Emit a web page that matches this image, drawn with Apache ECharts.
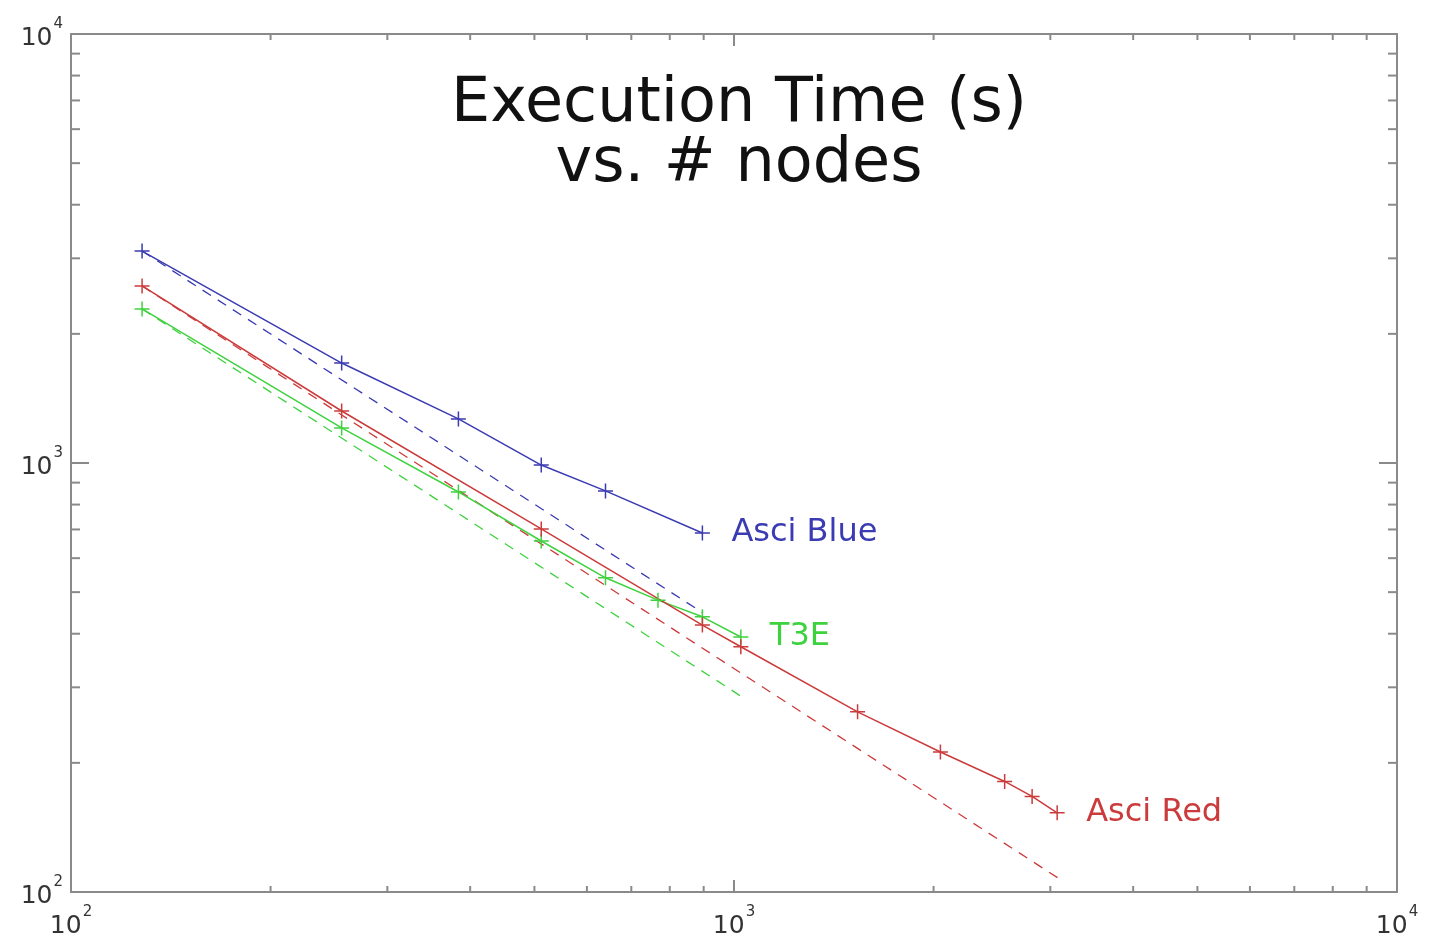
<!DOCTYPE html>
<html>
<head>
<meta charset="utf-8">
<script src="https://cdn.jsdelivr.net/npm/echarts@6/dist/echarts.min.js"></script>
<style>
  html, body { margin: 0; padding: 0; background: #fff; }
  #main { width: 1429px; height: 948px; }
</style>
</head>
<body>
<div id="main"></div>
<script>
// values (nodes, seconds)
var blueNodes = [128, 256, 384, 512, 640, 896];
var blueTime  = [3119, 1710, 1267, 989, 861, 687];
var redNodes  = [128, 256, 512, 896, 1024, 1536, 2048, 2560, 2816, 3072];
var redTime   = [2587, 1322, 702, 419, 373, 263, 212, 181, 167, 153];
var t3eNodes  = [128, 256, 384, 512, 640, 768, 896, 1024];
var t3eTime   = [2286, 1207, 856, 658, 540, 479, 438, 393];

// dashed reference lines, end points
var blueIdealNodes = [128, 898];
var blueIdealTime  = [3119, 447];
var redIdealNodes  = [128, 3105];
var redIdealTime   = [2587, 107];
var t3eIdealNodes  = [128, 1028];
var t3eIdealTime   = [2286, 285];

var minorTicks = [200, 300, 400, 500, 600, 700, 800, 900,
                  2000, 3000, 4000, 5000, 6000, 7000, 8000, 9000];

var BLUE = '#3b3bb3';
var RED = '#cc3b3b';
var GREEN = '#3fd23f';
var FONT = 'DejaVu Sans';

function pairs(xs, ys) {
  var out = [];
  for (var i = 0; i < xs.length; i++) out.push([xs[i], ys[i]]);
  return out;
}

var plus = 'path://M0,8 L16,8 M8,0 L8,16';

function solid(name, xs, ys, color) {
  return {
    name: name,
    type: 'line',
    data: pairs(xs, ys),
    symbol: plus,
    symbolSize: 15,
    lineStyle: { color: color, width: 1.5 },
    itemStyle: { color: color, borderColor: color, borderWidth: 1.5 },
    endLabel: {
      show: true,
      formatter: name,
      color: color,
      fontSize: 32,
      fontFamily: FONT,
      distance: 29
    },
    z: 3
  };
}

function dashed(xs, ys, color) {
  return {
    type: 'line',
    data: pairs(xs, ys),
    showSymbol: false,
    lineStyle: { color: color, width: 1.3, type: [10, 8] },
    z: 2
  };
}

function makeRich(shift) {
  return {
    b: { fontSize: 25, fontFamily: FONT, color: '#333', lineHeight: 25, verticalAlign: 'bottom', padding: [shift, 0, 0, 0] },
    s: { fontSize: 15, fontFamily: FONT, color: '#333', lineHeight: 15, padding: [0, 0, 19 + shift, 1], verticalAlign: 'bottom' }
  };
}
function powLabel(v) {
  return '{b|10}{s|' + Math.round(Math.log10(v)) + '}';
}

function axisCommon(showLabel, isY) {
  return {
    type: 'log',
    logBase: 10,
    min: 100,
    max: 10000,
    axisLine: { show: true, onZero: false, lineStyle: { color: '#8a8a8a', width: 2 } },
    axisTick: { show: true, inside: true, length: isY ? 18 : 12, lineStyle: { color: '#8a8a8a', width: 2 } },
    splitLine: { show: false },
    axisLabel: {
      show: showLabel,
      formatter: powLabel,
      rich: makeRich(isY ? 0 : 0),
      margin: isY ? 8 : 22,
      padding: isY ? [8, 0, 0, 0] : 0
    }
  };
}

var chart = echarts.init(document.getElementById('main'));

var xBottom = axisCommon(true, false); xBottom.position = 'bottom';
var xTop = axisCommon(false, false); xTop.position = 'top';
var yLeft = axisCommon(true, true); yLeft.position = 'left';
var yRight = axisCommon(false, true); yRight.position = 'right';

var option = {
  animation: false,
  backgroundColor: '#fff',
  title: {
    text: 'Execution Time (s)\nvs. # nodes',
    left: 734,
    top: 70,
    textAlign: 'center',
    textStyle: { fontSize: 62, fontWeight: 'normal', fontFamily: FONT, color: '#111', lineHeight: 60 }
  },
  grid: { left: 71, right: 32, top: 34, bottom: 56 },
  xAxis: [xBottom, xTop],
  yAxis: [yLeft, yRight],
  series: [
    dashed(blueIdealNodes, blueIdealTime, BLUE),
    dashed(redIdealNodes, redIdealTime, RED),
    dashed(t3eIdealNodes, t3eIdealTime, GREEN),
    solid('Asci Blue', blueNodes, blueTime, BLUE),
    solid('T3E', t3eNodes, t3eTime, GREEN),
    solid('Asci Red', redNodes, redTime, RED),
    {
      // minor ticks along bottom and top
      type: 'custom',
      silent: true,
      clip: false,
      data: minorTicks.map(function (v) { return [v, 100]; }),
      renderItem: function (params, api) {
        var b = api.coord([api.value(0), 100]);
        var t = api.coord([api.value(0), 10000]);
        var st = { stroke: '#8a8a8a', lineWidth: 2 };
        return { type: 'group', children: [
          { type: 'line', shape: { x1: b[0], y1: b[1], x2: b[0], y2: b[1] - 6 }, style: st },
          { type: 'line', shape: { x1: t[0], y1: t[1], x2: t[0], y2: t[1] + 6 }, style: st }
        ]};
      }
    },
    {
      // minor ticks along left and right
      type: 'custom',
      silent: true,
      clip: false,
      data: minorTicks.map(function (v) { return [100, v]; }),
      renderItem: function (params, api) {
        var l = api.coord([100, api.value(1)]);
        var r = api.coord([10000, api.value(1)]);
        var st = { stroke: '#8a8a8a', lineWidth: 2 };
        return { type: 'group', children: [
          { type: 'line', shape: { x1: l[0], y1: l[1], x2: l[0] + 9, y2: l[1] }, style: st },
          { type: 'line', shape: { x1: r[0], y1: r[1], x2: r[0] - 9, y2: r[1] }, style: st }
        ]};
      }
    }
  ]
};

chart.setOption(option);
</script>
</body>
</html>
